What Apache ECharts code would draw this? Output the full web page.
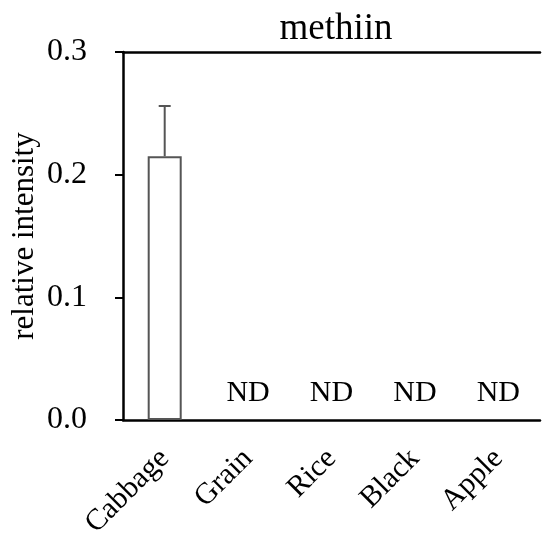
<!DOCTYPE html>
<html><head><meta charset="utf-8">
<script src="https://cdn.jsdelivr.net/npm/echarts@6/dist/echarts.min.js"></script>
<style>html,body{margin:0;padding:0;background:#fff}#c{width:542px;height:538px}</style>
</head><body><div id="c"></div>
<script>
var categories = ['Cabbage', 'Grain', 'Rice', 'Black', 'Apple'];
var values = [0.215, 0, 0, 0, 0];
var errors = [0.041, 0, 0, 0, 0];
var ndFlags = [false, true, true, true, true];
var yTicks = [0, 0.1, 0.2, 0.3];

var font = '"Liberation Serif", "Times New Roman", serif';
var chart = echarts.init(document.getElementById('c'), null, {renderer: 'canvas'});
chart.setOption({
  animation: false,
  title: {text: 'methiin', left: 331, top: 6, textAlign: 'center',
    textStyle: {fontFamily: font, fontSize: 37, fontWeight: 'normal', color: '#000'}},
  grid: {left: 123, top: 52, right: 2, bottom: 118, outerBoundsMode: 'none', containLabel: false},
  xAxis: [{
    type: 'category', data: categories,
    axisLine: {lineStyle: {color: '#000', width: 2.5}},
    axisTick: {show: false},
    axisLabel: {rotate: 45, fontFamily: font, fontSize: 30, color: '#000', margin: 34}
  }, {
    type: 'category', data: categories, position: 'top',
    axisLine: {lineStyle: {color: '#000', width: 2.5}},
    axisTick: {show: false}, axisLabel: {show: false}
  }],
  yAxis: {
    type: 'value', min: 0, max: 0.3, interval: 0.1,
    name: 'relative intensity', nameLocation: 'middle', nameGap: 83, nameMoveOverlap: false,
    nameTextStyle: {fontFamily: font, fontSize: 31, color: '#000'},
    axisLine: {show: true, lineStyle: {color: '#000', width: 2.5}},
    axisTick: {show: true, length: 8, lineStyle: {color: '#000', width: 2}},
    splitLine: {show: false},
    axisLabel: {fontFamily: font, fontSize: 32, color: '#000', margin: 36,
      formatter: function (v) { return v.toFixed(1); }}
  },
  series: [{
    type: 'bar',
    data: values.map(function (v, i) {
      return ndFlags[i] ? {value: v, itemStyle: {borderWidth: 0, color: 'rgba(0,0,0,0)'}} : v;
    }),
    barWidth: 34,
    itemStyle: {color: '#fff', borderColor: '#555', borderWidth: 2},
    label: {show: true, position: 'top', distance: 12, fontFamily: font, fontSize: 30, color: '#000',
      formatter: function (p) { return ndFlags[p.dataIndex] ? 'ND' : ''; }}
  }, {
    type: 'custom',
    data: values.map(function (v, i) { return [i, v, v + errors[i]]; }),
    renderItem: function (params, api) {
      var i = api.value(0);
      if (errors[i] <= 0) return null;
      var lo = api.coord([i, api.value(1)]);
      var hi = api.coord([i, api.value(2)]);
      var half = 6;
      var st = {stroke: '#555', lineWidth: 2};
      return {type: 'group', children: [
        {type: 'line', shape: {x1: lo[0], y1: lo[1], x2: hi[0], y2: hi[1]}, style: st},
        {type: 'line', shape: {x1: hi[0] - half, y1: hi[1], x2: hi[0] + half, y2: hi[1]}, style: st}
      ]};
    },
    z: 3
  }]
});
</script></body></html>
